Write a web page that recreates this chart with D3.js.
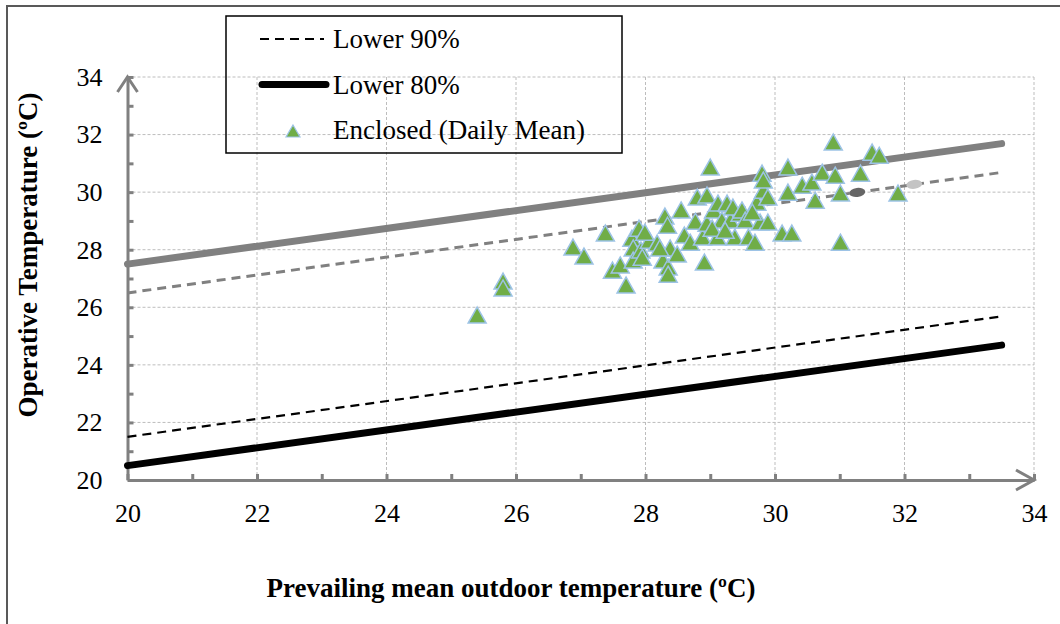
<!DOCTYPE html>
<html>
<head>
<meta charset="utf-8">
<title>Adaptive comfort chart</title>
<style>
  body { margin: 0; background: #fff; }
  svg text { font-family: "Liberation Serif", "Times New Roman", serif; fill: #000; }
  .grid line { stroke: #bdbdbd; stroke-width: 1; stroke-dasharray: 3,2; }
  .axis path, .axis line { stroke: #808080; stroke-width: 3; }
  .axis text { font-size: 26px; }
  .title { font-size: 27px; font-weight: bold; }
  .legend text { font-size: 27px; }
</style>
</head>
<body>
<svg width="1060" height="624"></svg>
<script src="https://d3js.org/d3.v7.min.js"></script>
<script>
// comfort band lines (two end points each)
var lineX   = [20, 33.5];
var upper80 = [27.5, 31.685];
var upper90 = [26.5, 30.685];
var lower90 = [21.5, 25.685];
var lower80 = [20.5, 24.685];

// stray markers sitting on the upper 90% line
var blobX = [31.27, 32.15];
var blobY = [29.99, 30.27];

// Enclosed (Daily Mean)
var ptX = [25.40, 25.80, 25.80, 26.88, 27.05, 27.38, 27.49, 27.61, 27.70, 27.79,
           27.81, 27.81, 27.90, 27.93, 27.95, 28.06, 28.18, 28.27, 28.30, 28.34,
           28.35, 28.35, 28.38, 28.49, 28.55, 28.60, 28.69, 28.77, 28.80, 28.88,
           28.91, 28.95, 28.95, 29.00, 29.05, 29.11, 29.12, 29.18, 29.26, 29.31,
           29.35, 29.38, 29.46, 29.49, 29.54, 29.59, 29.69, 29.72, 29.77, 29.80,
           29.82, 29.82, 29.89, 29.89, 30.11, 30.20, 30.20, 30.26, 30.42, 30.57,
           30.62, 30.73, 30.90, 30.93, 31.01, 31.01, 31.32, 31.50, 31.61, 31.90,
           29.03, 29.23, 29.65, 27.99, 28.22];
var ptY = [25.73, 26.91, 26.67, 28.09, 27.78, 28.58, 27.29, 27.47, 26.77, 28.40,
           28.06, 27.64, 28.75, 27.99, 27.74, 28.33, 28.23, 27.64, 29.17, 28.85,
           27.40, 27.15, 28.06, 27.85, 29.38, 28.51, 28.26, 28.99, 29.83, 28.44,
           27.57, 29.90, 28.92, 30.87, 29.38, 28.44, 29.62, 29.03, 29.62, 29.03,
           29.48, 28.44, 29.27, 29.38, 29.03, 28.44, 28.26, 29.65, 28.96, 30.66,
           30.07, 30.42, 29.83, 28.96, 28.58, 30.87, 30.00, 28.58, 30.24, 30.35,
           29.72, 30.69, 31.74, 30.59, 29.97, 28.26, 30.66, 31.39, 31.28, 29.97,
           28.75, 28.68, 29.31, 28.61, 28.06];

var xTicks = [20, 22, 24, 26, 28, 30, 32, 34];
var yTicks = [20, 22, 24, 26, 28, 30, 32, 34];
var minorTicks = d3.range(20, 35, 1);

var legendLabels = ["Lower 90%", "Lower 80%", "Enclosed (Daily Mean)"];

var svg = d3.select("svg");

var x = d3.scaleLinear().domain([20, 34]).range([127.5, 1034]);
var y = d3.scaleLinear().domain([20, 34]).range([480, 77]);

// outer frame
svg.append("rect")
    .attr("x", 7).attr("y", 6)
    .attr("width", 1070).attr("height", 640)
    .attr("fill", "none")
    .attr("stroke", "#595959")
    .attr("stroke-width", 2);

// gridlines
var grid = svg.append("g").attr("class", "grid");
grid.selectAll(".gx")
    .data(xTicks.slice(1))
    .enter().append("line")
    .attr("x1", d => x(d)).attr("x2", d => x(d))
    .attr("y1", y(20)).attr("y2", y(34));
grid.selectAll(".gy")
    .data(yTicks.slice(1))
    .enter().append("line")
    .attr("y1", d => y(d)).attr("y2", d => y(d))
    .attr("x1", x(20)).attr("x2", x(34));

// axes
var xAxis = d3.axisBottom(x)
    .tickValues(minorTicks)
    .tickFormat(d => d % 2 === 0 ? d : "")
    .tickSizeInner(-6).tickSizeOuter(0)
    .tickPadding(24);
svg.append("g").attr("class", "axis")
    .attr("transform", "translate(0," + y(20) + ")")
    .call(xAxis);

var yAxis = d3.axisLeft(y)
    .tickValues(minorTicks)
    .tickFormat(d => d % 2 === 0 ? d : "")
    .tickSizeInner(-6).tickSizeOuter(0)
    .tickPadding(25);
svg.append("g").attr("class", "axis")
    .attr("transform", "translate(" + x(20) + ",0)")
    .call(yAxis);

// arrow heads
svg.append("path")
    .attr("d", d3.line()([[x(20) - 10, y(34) + 15], [x(20), y(34)], [x(20) + 10, y(34) + 15]]))
    .attr("fill", "none").attr("stroke", "#808080").attr("stroke-width", 3);
svg.append("path")
    .attr("d", d3.line()([[x(34) - 18, y(20) - 10], [x(34), y(20)], [x(34) - 18, y(20) + 10]]))
    .attr("fill", "none").attr("stroke", "#808080").attr("stroke-width", 3);

// comfort lines
var lines = [
  {v: upper80, color: "#808080", w: 7, dash: null},
  {v: upper90, color: "#808080", w: 3, dash: "9,6"},
  {v: lower90, color: "#000", w: 2.2, dash: "9,6"},
  {v: lower80, color: "#000", w: 7, dash: null}
];
var lineGen = d3.line().x(d => x(d[0])).y(d => y(d[1]));
lines.forEach(function(l) {
  svg.append("path")
      .attr("d", lineGen(lineX.map((v, i) => [v, l.v[i]])))
      .attr("fill", "none")
      .attr("stroke", l.color)
      .attr("stroke-width", l.w)
      .attr("stroke-linecap", l.dash ? "butt" : "round")
      .attr("stroke-dasharray", l.dash);
});

// stray blobs
svg.selectAll(".blob")
    .data(blobX)
    .enter().append("ellipse")
    .attr("cx", d => x(d))
    .attr("cy", (d, i) => y(blobY[i]))
    .attr("rx", 8).attr("ry", 4.5)
    .attr("transform", (d, i) => "rotate(-7," + x(d) + "," + y(blobY[i]) + ")")
    .attr("fill", (d, i) => i === 0 ? "#666" : "#c4c4c4");

// triangles
var tri = "M0,-8L9,8L-9,8Z";
svg.append("g").selectAll("path")
    .data(ptX)
    .enter().append("path")
    .attr("d", tri)
    .attr("transform", (d, i) => "translate(" + x(d) + "," + y(ptY[i]) + ")")
    .attr("fill", "#70ad47")
    .attr("stroke", "#9dc3e6")
    .attr("stroke-width", 1.5);

// axis titles
svg.append("text")
    .attr("class", "title")
    .attr("text-anchor", "middle")
    .attr("x", 511).attr("y", 597)
    .text("Prevailing mean outdoor temperature (ºC)");
svg.append("text")
    .attr("class", "title")
    .attr("text-anchor", "middle")
    .attr("transform", "translate(37,255) rotate(-90)")
    .text("Operative Temperature (ºC)");

// legend
var lg = svg.append("g").attr("class", "legend");
lg.append("rect")
    .attr("x", 226).attr("y", 16)
    .attr("width", 396).attr("height", 137)
    .attr("fill", "none").attr("stroke", "#000").attr("stroke-width", 1.5);
lg.append("line")
    .attr("x1", 260).attr("x2", 324).attr("y1", 39).attr("y2", 39)
    .attr("stroke", "#000").attr("stroke-width", 2.2).attr("stroke-dasharray", "9,6");
lg.append("line")
    .attr("x1", 262).attr("x2", 326).attr("y1", 84.5).attr("y2", 84.5)
    .attr("stroke", "#000").attr("stroke-width", 7).attr("stroke-linecap", "round");
lg.append("path")
    .attr("d", "M0,-6L7,6L-7,6Z")
    .attr("transform", "translate(293,131)")
    .attr("fill", "#70ad47").attr("stroke", "#9dc3e6").attr("stroke-width", 1.2);
lg.selectAll("text")
    .data(legendLabels)
    .enter().append("text")
    .attr("x", 333)
    .attr("y", (d, i) => 48 + i * 45.5)
    .text(d => d);
</script>
</body>
</html>
